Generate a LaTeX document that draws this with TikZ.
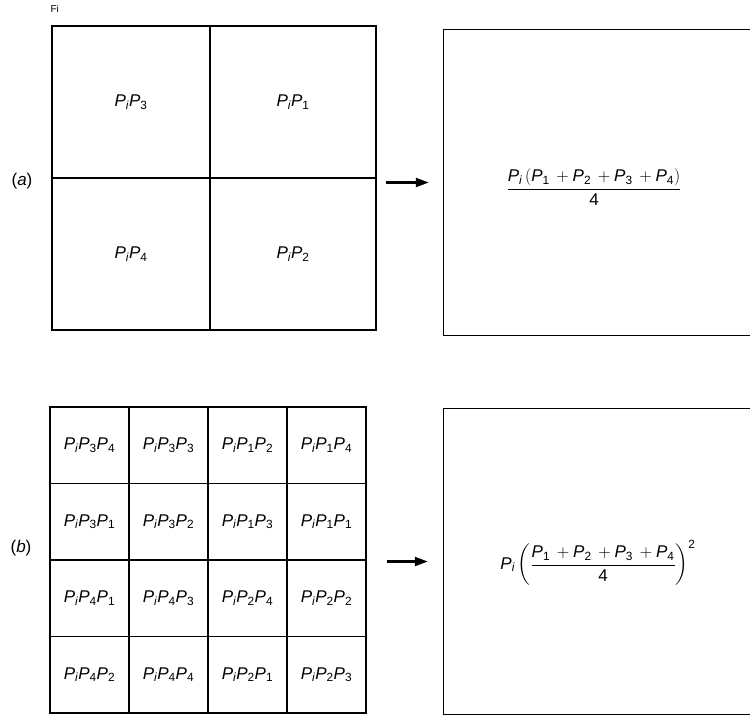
\documentclass[tikz,border=0pt]{standalone}
\usepackage{amsmath}
\usepackage{fontspec}
\setmainfont{Liberation Sans}
\usetikzlibrary{arrows.meta, positioning}
\newcommand{\Pii}{\textit{P}\ensuremath{_{\textit{i}}}}
\newcommand{\Pk}[1]{\textit{P}\ensuremath{_{\text{#1}}}}

\begin{document}
\begin{tikzpicture}[x=1pt, y=-1pt,
  cell/.style={draw, line width=1.2pt, inner sep=0pt, font=\fontsize{17}{20}\selectfont},
  bigcell/.style={cell, minimum height=152pt},
  smallcell/.style={cell, minimum width=79pt, minimum height=76.5pt},
  frame/.style={line width=1.2pt},
  res/.style={font=\fontsize{17}{20}\selectfont},
  tag/.style={font=\fontsize{17}{20}\selectfont},
  pointer/.style={-{Triangle[length=13pt,width=9pt]}, line width=2.2pt}
]
  \useasboundingbox (0,0) rectangle (750,716);

  % (a) four quarters
  \node[bigcell, minimum width=158pt] (q3) at (131,102) {\Pii\Pk{3}};
  \node[bigcell, minimum width=166pt] (q1) at (293,102) {\Pii\Pk{1}};
  \node[bigcell, minimum width=158pt] (q4) at (131,254) {\Pii\Pk{4}};
  \node[bigcell, minimum width=166pt] (q2) at (293,254) {\Pii\Pk{2}};

  \node[inner sep=0pt, minimum width=316pt, minimum height=305pt] (ra) at (602,182.5) {};
  \draw[frame] (ra.north east) -- (ra.north west) -- (ra.south west) -- (ra.south east);
  \node[res] (fa) at (594,187) {$\dfrac{\Pii\,(\Pk{1}\,+\Pk{2}\,+\Pk{3}\,+\Pk{4})}{\text{4}}$};

  \draw[pointer] ([xshift=9pt]ra.west -| q1.east) -- ([xshift=-15pt]ra.west);

  % (b) sixteen cells
  \foreach \lab [count=\n from 0] in {
    {\Pii\Pk{3}\Pk{4}}, {\Pii\Pk{3}\Pk{3}}, {\Pii\Pk{1}\Pk{2}}, {\Pii\Pk{1}\Pk{4}},
    {\Pii\Pk{3}\Pk{1}}, {\Pii\Pk{3}\Pk{2}}, {\Pii\Pk{1}\Pk{3}}, {\Pii\Pk{1}\Pk{1}},
    {\Pii\Pk{4}\Pk{1}}, {\Pii\Pk{4}\Pk{3}}, {\Pii\Pk{2}\Pk{4}}, {\Pii\Pk{2}\Pk{2}},
    {\Pii\Pk{4}\Pk{2}}, {\Pii\Pk{4}\Pk{4}}, {\Pii\Pk{2}\Pk{1}}, {\Pii\Pk{2}\Pk{3}}} {
    \pgfmathtruncatemacro{\col}{mod(\n,4)}
    \pgfmathtruncatemacro{\row}{int(\n/4)}
    \node[smallcell] (g\n) at ({89.5+79*\col}, {445.25+76.5*\row}) {\lab};
  }

  \node[inner sep=0pt, minimum width=316pt, minimum height=305pt] (rb) at (602,561.5) {};
  \draw[frame] (rb.north east) -- (rb.north west) -- (rb.south west) -- (rb.south east);
  \node[res] (fb) at (598,563) {$\Pii\left(\dfrac{\Pk{1}\,+\Pk{2}\,+\Pk{3}\,+\Pk{4}}{\text{4}}\right)^{\text{2}}$};

  \draw[pointer] ([xshift=20pt]rb.west -| g7.east) -- ([xshift=-16pt]rb.west);

  % labels
  \node[tag] (ta) at (22,181) {(\textit{a})};
  \node[tag] (tb) at (21,548) {(\textit{b})};
  \node[font=\fontsize{10}{12}\selectfont, anchor=west] (fi) at (47,9) {Fi};
\end{tikzpicture}
\end{document}
